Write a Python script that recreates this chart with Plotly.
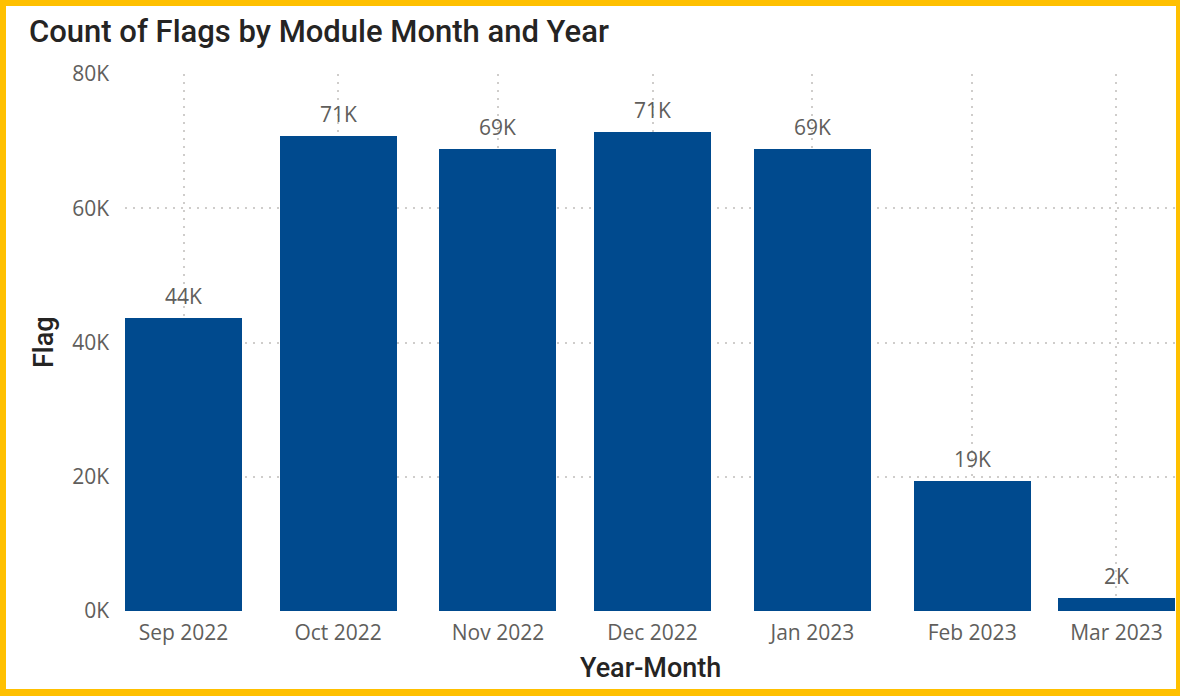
import plotly.graph_objects as go
from datetime import datetime, timedelta

# ---- data ----
months = ["2022-09-01", "2022-10-01", "2022-11-01", "2022-12-01",
          "2023-01-01", "2023-02-01", "2023-03-01"]
tick_labels = ["Sep 2022", "Oct 2022", "Nov 2022", "Dec 2022",
               "Jan 2023", "Feb 2023", "Mar 2023"]
flags = [43600, 70700, 68900, 71400, 68900, 19400, 1900]
y_ticks = [0, 20000, 40000, 60000, 80000]
y_tick_labels = ["0K", "20K", "40K", "60K", "80K"]

labels = [f"{round(v / 1000)}K" for v in flags]

W, H = 1180, 696
ML, MR, MT, MB = 125, 5, 74, 85
PW, PH = W - ML - MR, H - MT - MB

half_days = 11.35
bar_w_ms = 2 * half_days * 86400000
x0 = datetime(2022, 9, 1) - timedelta(days=half_days)
x1 = datetime(2023, 3, 1) + timedelta(days=half_days)

BAR = "#004A8E"
GRID = "#CFCDCB"
TICK = "#605E5C"
DARK = "#252423"
YELLOW = "#FFC000"
TICKFONT = dict(family="Open Sans", size=21, color=TICK)

fig = go.Figure(go.Bar(
    x=months, y=flags, width=bar_w_ms,
    marker=dict(color=BAR, line=dict(width=0)),
    hoverinfo="x+y",
))

def px_x(px):
    return (px - ML) / PW

def px_y(py):
    return (H - MB - py) / PH

annotations = [
    dict(text=lab, x=m, y=v, xref="x", yref="y", yshift=22,
         xanchor="center", yanchor="middle", showarrow=False,
         font=TICKFONT)
    for m, v, lab in zip(months, flags, labels)
]
annotations += [
    dict(text="Count of Flags by Module Month and Year",
         xref="paper", yref="paper", x=px_x(27), y=px_y(31),
         xanchor="left", yanchor="middle", showarrow=False,
         font=dict(family="Roboto", size=31, color=DARK, weight=500)),
    dict(text="Year-Month", xref="paper", yref="paper",
         x=px_x(650), y=px_y(668), xanchor="center", yanchor="middle",
         showarrow=False,
         font=dict(family="Roboto", size=27, color=DARK, weight=500)),
    dict(text="Flag", xref="paper", yref="paper",
         x=px_x(44), y=px_y(342), xanchor="center", yanchor="middle",
         showarrow=False, textangle=-90,
         font=dict(family="Roboto", size=27, color=DARK, weight=500)),
]

fig.update_layout(
    width=W, height=H,
    margin=dict(l=ML, r=MR, t=MT, b=MB),
    paper_bgcolor=YELLOW,
    plot_bgcolor="white",
    showlegend=False,
    bargap=0,
    shapes=[dict(
        type="rect", xref="paper", yref="paper", layer="below",
        x0=px_x(6), x1=px_x(W - 4), y0=px_y(H - 7), y1=px_y(6),
        fillcolor="white", line=dict(width=0),
    )],
    xaxis=dict(
        type="date", range=[x0, x1],
        tickvals=months, ticktext=tick_labels,
        tickfont=TICKFONT,
        showgrid=True, gridcolor=GRID, griddash="2px,6px", gridwidth=1.5,
        zeroline=False, showline=False, ticks="",
        ticklabelstandoff=7,
    ),
    yaxis=dict(
        range=[0, 80000],
        tickvals=y_ticks, ticktext=y_tick_labels,
        tickfont=TICKFONT,
        showgrid=True, gridcolor=GRID, griddash="2px,6px", gridwidth=1.5,
        zeroline=False, showline=False, ticks="",
        ticklabelstandoff=15,
    ),
    annotations=annotations,
)

fig.write_html("out.html",
               config={"displayModeBar": False},
               post_script="document.body.style.margin='0';"
                           "document.body.style.overflow='hidden';")
